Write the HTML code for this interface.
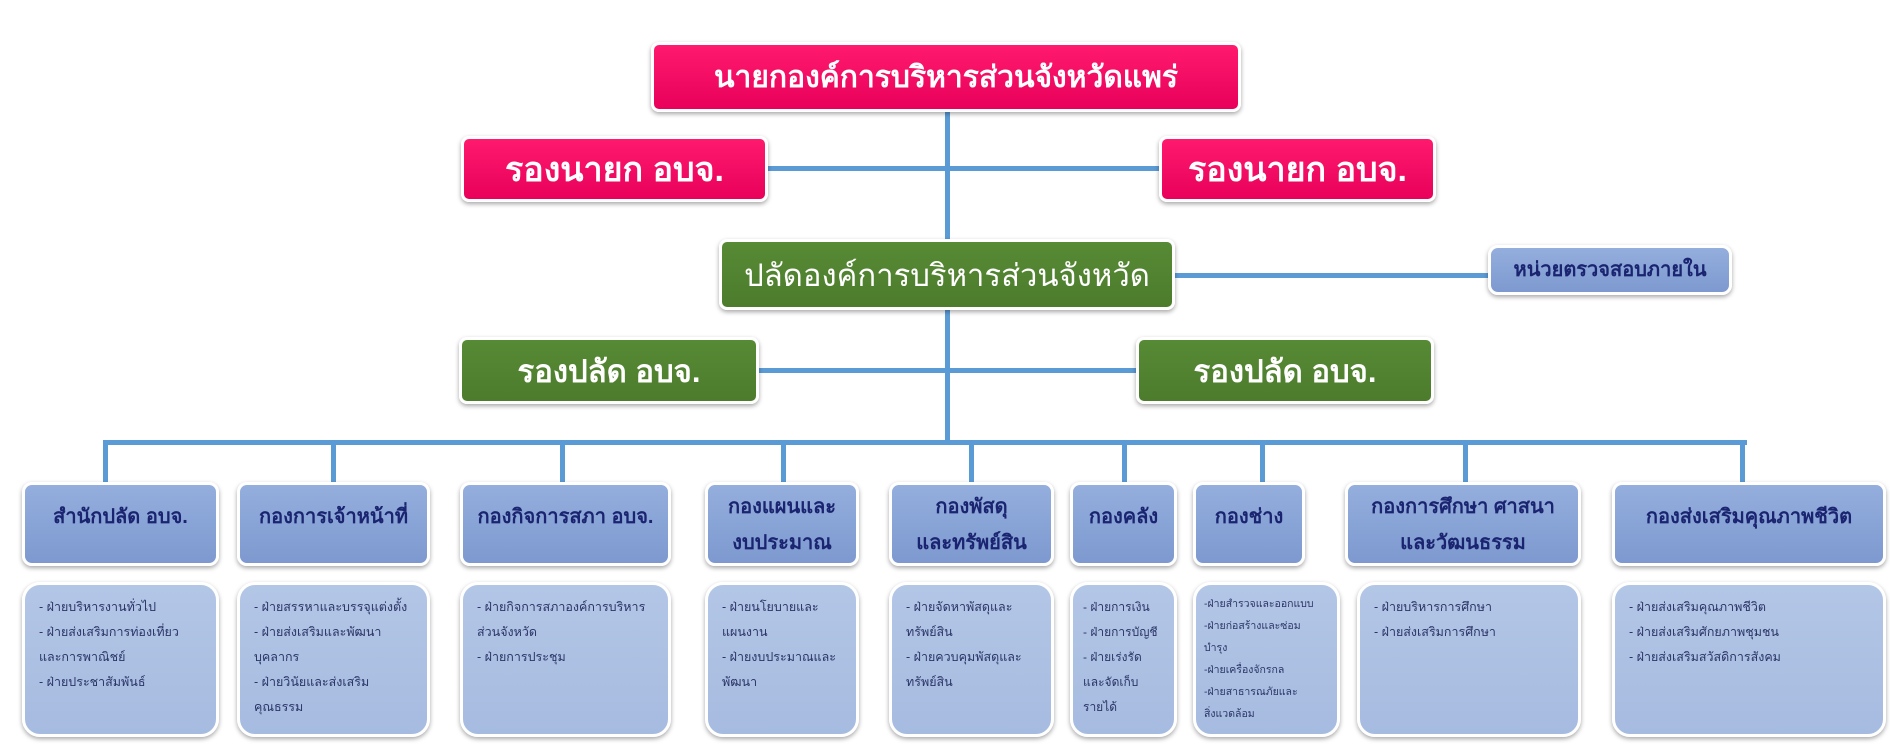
<!DOCTYPE html>
<html><head><meta charset="utf-8"><style>
body{margin:0;width:1890px;height:756px;background:#fff;position:relative;overflow:hidden;font-family:"Liberation Sans","Noto Sans CJK SC","WenQuanYi Zen Hei",sans-serif}
.b{position:absolute;box-sizing:border-box;border:3px solid #fff;box-shadow:0 2px 5px rgba(0,0,0,.35);display:flex;align-items:center;justify-content:center;text-align:center;white-space:nowrap}
.pink{background:linear-gradient(#ff1a6e,#e8005a);color:#fff;border-radius:8px;font-size:34px;font-weight:bold}
.green{background:linear-gradient(#578a35,#4c7c2c);color:#fff;border-radius:8px;font-size:31px}
.hd{background:linear-gradient(#94aedd,#7d99cf);color:#1a2470;border-radius:10px;font-size:20px;font-weight:bold;line-height:36px;align-items:flex-start;padding-top:14px}
.dt{background:linear-gradient(#b3c6e6,#a6bbe0);color:#2a3466;border-radius:18px;font-size:12.5px;line-height:25px;align-items:flex-start;justify-content:flex-start;text-align:left;padding:10px 6px 0 14px;white-space:normal}
.l{position:absolute;background:#5b9bd5}
</style></head><body>
<div class="l" style="left:945px;top:108px;width:5px;height:337px"></div>
<div class="l" style="left:106px;top:440px;width:1641px;height:5px"></div>
<div class="l" style="left:1175px;top:273px;width:313px;height:5px"></div>
<div class="l" style="left:103px;top:440px;width:5px;height:45px"></div>
<div class="l" style="left:331px;top:440px;width:5px;height:45px"></div>
<div class="l" style="left:560px;top:440px;width:5px;height:45px"></div>
<div class="l" style="left:781px;top:440px;width:5px;height:45px"></div>
<div class="l" style="left:969px;top:440px;width:5px;height:45px"></div>
<div class="l" style="left:1122px;top:440px;width:5px;height:45px"></div>
<div class="l" style="left:1260px;top:440px;width:5px;height:45px"></div>
<div class="l" style="left:1463px;top:440px;width:5px;height:45px"></div>
<div class="l" style="left:1740px;top:440px;width:5px;height:45px"></div>
<div class="l" style="left:766px;top:166px;width:180px;height:5px"></div>
<div class="l" style="left:948px;top:166px;width:213px;height:5px"></div>
<div class="l" style="left:757px;top:368px;width:190px;height:5px"></div>
<div class="l" style="left:948px;top:368px;width:190px;height:5px"></div>

<div class="b pink" style="left:651px;top:42px;width:590px;height:70px;font-size:30px">นายกองค์การบริหารส่วนจังหวัดแพร่</div>
<div class="b pink" style="left:461px;top:136px;width:307px;height:66px">รองนายก อบจ.</div>
<div class="b pink" style="left:1159px;top:136px;width:277px;height:66px">รองนายก อบจ.</div>
<div class="b green" style="left:719px;top:239px;width:456px;height:71px">ปลัดองค์การบริหารส่วนจังหวัด</div>
<div class="b hd" style="left:1488px;top:245px;width:244px;height:50px;padding-top:0;align-items:center">หน่วยตรวจสอบภายใน</div>
<div class="b green" style="left:459px;top:337px;width:300px;height:67px;font-weight:bold">รองปลัด อบจ.</div>
<div class="b green" style="left:1136px;top:337px;width:298px;height:67px;font-weight:bold">รองปลัด อบจ.</div>

<div class="b hd" style="left:22px;top:482px;width:197px;height:84px">สำนักปลัด อบจ.</div>
<div class="b hd" style="left:237px;top:482px;width:193px;height:84px">กองการเจ้าหน้าที่</div>
<div class="b hd" style="left:460px;top:482px;width:211px;height:84px">กองกิจการสภา อบจ.</div>
<div class="b hd" style="left:705px;top:482px;width:154px;height:84px;padding-top:4px">กองแผนและ<br>งบประมาณ</div>
<div class="b hd" style="left:889px;top:482px;width:165px;height:84px;padding-top:4px">กองพัสดุ<br>และทรัพย์สิน</div>
<div class="b hd" style="left:1070px;top:482px;width:107px;height:84px">กองคลัง</div>
<div class="b hd" style="left:1193px;top:482px;width:112px;height:84px">กองช่าง</div>
<div class="b hd" style="left:1345px;top:482px;width:236px;height:84px;padding-top:4px">กองการศึกษา ศาสนา<br>และวัฒนธรรม</div>
<div class="b hd" style="left:1612px;top:482px;width:274px;height:84px">กองส่งเสริมคุณภาพชีวิต</div>

<div class="b dt" style="left:22px;top:582px;width:197px;height:155px">- ฝ่ายบริหารงานทั่วไป<br>- ฝ่ายส่งเสริมการท่องเที่ยว<br>และการพาณิชย์<br>- ฝ่ายประชาสัมพันธ์</div>
<div class="b dt" style="left:237px;top:582px;width:193px;height:155px">- ฝ่ายสรรหาและบรรจุแต่งตั้ง<br>- ฝ่ายส่งเสริมและพัฒนา<br>บุคลากร<br>- ฝ่ายวินัยและส่งเสริม<br>คุณธรรม</div>
<div class="b dt" style="left:460px;top:582px;width:211px;height:155px">- ฝ่ายกิจการสภาองค์การบริหาร<br>ส่วนจังหวัด<br>- ฝ่ายการประชุม</div>
<div class="b dt" style="left:705px;top:582px;width:154px;height:155px">- ฝ่ายนโยบายและ<br>แผนงาน<br>- ฝ่ายงบประมาณและ<br>พัฒนา</div>
<div class="b dt" style="left:889px;top:582px;width:165px;height:155px">- ฝ่ายจัดหาพัสดุและ<br>ทรัพย์สิน<br>- ฝ่ายควบคุมพัสดุและ<br>ทรัพย์สิน</div>
<div class="b dt" style="left:1070px;top:582px;width:107px;height:155px;padding-left:10px;font-size:12px">- ฝ่ายการเงิน<br>- ฝ่ายการบัญชี<br>- ฝ่ายเร่งรัด<br>และจัดเก็บ<br>รายได้</div>
<div class="b dt" style="left:1193px;top:582px;width:147px;height:155px;padding:8px 2px 0 8px;font-size:10.5px;line-height:22px;white-space:nowrap">-ฝ่ายสำรวจและออกแบบ<br>-ฝ่ายก่อสร้างและซ่อม<br>บำรุง<br>-ฝ่ายเครื่องจักรกล<br>-ฝ่ายสาธารณภัยและ<br>สิ่งแวดล้อม</div>
<div class="b dt" style="left:1357px;top:582px;width:224px;height:155px">- ฝ่ายบริหารการศึกษา<br>- ฝ่ายส่งเสริมการศึกษา</div>
<div class="b dt" style="left:1612px;top:582px;width:274px;height:155px">- ฝ่ายส่งเสริมคุณภาพชีวิต<br>- ฝ่ายส่งเสริมศักยภาพชุมชน<br>- ฝ่ายส่งเสริมสวัสดิการสังคม</div>
</body></html>
